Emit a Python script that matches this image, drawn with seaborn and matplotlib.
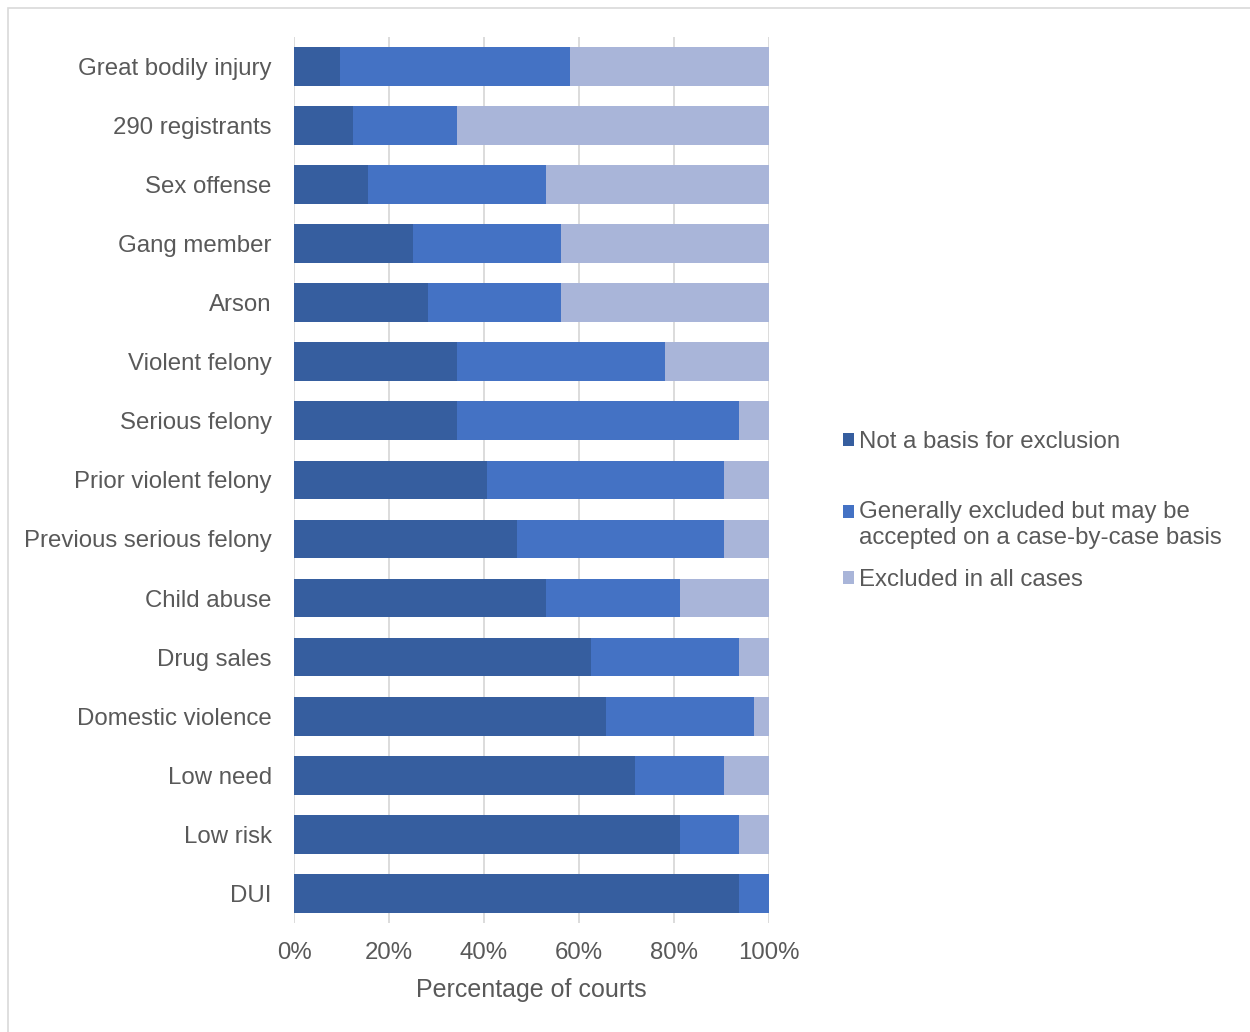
import matplotlib
matplotlib.use("Agg")
import matplotlib.pyplot as plt
import matplotlib.patches as mpatches
from matplotlib.legend_handler import HandlerPatch
import seaborn as sns
import pandas as pd
import numpy as np

categories = ["Great bodily injury", "290 registrants", "Sex offense", "Gang member",
              "Arson", "Violent felony", "Serious felony", "Prior violent felony",
              "Previous serious felony", "Child abuse", "Drug sales", "Domestic violence",
              "Low need", "Low risk", "DUI"]
not_basis = [9.68, 12.5, 15.625, 25.0, 28.125, 34.375, 34.375, 40.625, 46.875,
             53.125, 62.5, 65.625, 71.875, 81.25, 93.75]
generally_excluded = [48.39, 21.875, 37.5, 31.25, 28.125, 43.75, 59.375, 50.0, 43.75,
                      28.125, 31.25, 31.25, 18.75, 12.5, 6.25]
excluded_all = [41.93, 65.625, 46.875, 43.75, 43.75, 21.875, 6.25, 9.375, 9.375,
                18.75, 6.25, 3.125, 9.375, 6.25, 0.0]
series_names = ["Not a basis for exclusion",
                "Generally excluded but may be\naccepted on a case-by-case basis",
                "Excluded in all cases"]
tick_labels = ["0%", "20%", "40%", "60%", "80%", "100%"]

colors = ["#365E9F", "#4472C4", "#A9B5D9"]
text_color = "#595959"
FS = 17.3

sns.set_style("white")
plt.rcParams["font.family"] = ["Liberation Sans", "DejaVu Sans"]

df = pd.DataFrame({
    "category": categories,
    "s1": np.array(not_basis) / 100,
    "s2": np.array(generally_excluded) / 100,
    "s3": np.array(excluded_all) / 100,
})
df["c1"] = df["s1"]
df["c2"] = df["s1"] + df["s2"]
df["c3"] = df["c2"] + df["s3"]

fig = plt.figure(figsize=(12.5, 10.32), dpi=100)
ax = fig.add_axes([0.2352, 0.1056, 0.6152 - 0.2352, 0.9644 - 0.1056])

bw = 0.655
for col, color in zip(["c3", "c2", "c1"], colors[::-1]):
    sns.barplot(data=df, x=col, y="category", color=color, orient="h",
                width=bw, linewidth=0, saturation=1, ax=ax, errorbar=None)

ax.set_xlim(0, 1)
ax.set_ylim(len(categories) - 0.5, -0.5)
ax.set_xticks(np.linspace(0, 1, len(tick_labels)))
ax.set_xticklabels(tick_labels)
ax.grid(axis="x", color="#D9D9D9", linewidth=1.3)
ax.grid(axis="y", visible=False)
ax.set_axisbelow(True)
for s in ax.spines.values():
    s.set_visible(False)
ax.tick_params(axis="both", length=0, labelsize=FS, colors=text_color)
ax.tick_params(axis="y", pad=16)
ax.tick_params(axis="x", pad=14)
ax.set_ylabel("")
ax.set_xlabel("Percentage of courts", fontsize=18, color=text_color, labelpad=10)


def top_aligned(legend, orig_handle, xdescent, ydescent, width, height, fontsize):
    shift = 0.55 * fontsize
    return mpatches.Rectangle((-xdescent, -ydescent + shift), width, height)


# legend entries positioned like the original
legend_y = [0.5717, 0.4913, 0.4380]
for i, (name, color, yy) in enumerate(zip(series_names, colors, legend_y)):
    h = mpatches.Patch(facecolor=color, edgecolor="none")
    hmap = {h: HandlerPatch(patch_func=top_aligned)} if "\n" in name else None
    lg = fig.legend([h], [name], loc="center left", bbox_to_anchor=(0.6744, yy),
                    frameon=False, fontsize=FS, handlelength=0.45, handleheight=0.45,
                    handletextpad=0.22, borderpad=0, borderaxespad=0,
                    handler_map=hmap)
    for t in lg.get_texts():
        t.set_color(text_color)

# chart area border
fig.patches.append(mpatches.Rectangle((8 / 1250, -0.1), 1.2, 0.99225 + 0.1,
                                      transform=fig.transFigure, fill=False,
                                      edgecolor="#D9D9D9", linewidth=1.2))

fig.savefig("out.png", dpi=100, facecolor="white")
